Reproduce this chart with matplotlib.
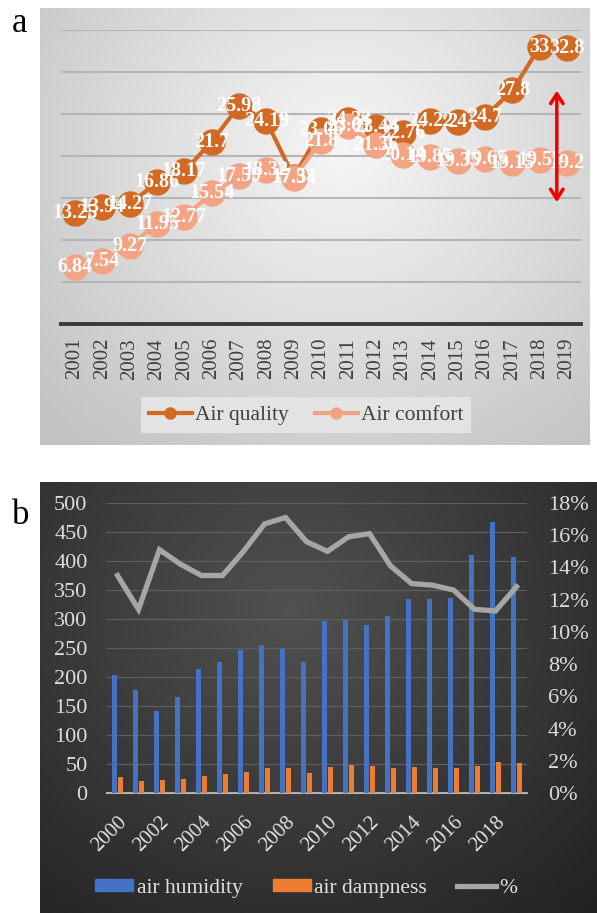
import matplotlib.pyplot as plt
import matplotlib.colors as mcolors
from matplotlib.lines import Line2D
from matplotlib.patches import Patch
from matplotlib.ticker import PercentFormatter
import numpy as np

# Panel a data
years_a = [str(y) for y in range(2001, 2020)]
air_quality = [13.25, 13.94, 14.27, 16.86, 18.17, 21.7, 25.98, 24.19, 17.51, 23.06,
               24.33, 23.44, 22.76, 24.22, 24, 24.7, 27.8, 33, 32.8]
air_comfort = [6.84, 7.54, 9.27, 11.95, 12.77, 15.54, 17.59, 18.32, 17.34, 21.8,
               23.61, 21.36, 20.14, 19.85, 19.35, 19.65, 19.15, 19.55, 19.2]

# Panel b data
years_b = list(range(2000, 2020))
air_humidity = [203, 177, 142, 166, 213, 226, 247, 255, 248, 226,
                297, 298, 290, 305, 335, 335, 337, 410, 467, 407]
air_dampness = [28, 20, 22, 23.5, 29, 32, 37, 43, 42.5, 35,
                45, 48, 47, 43, 44, 43, 43, 47, 53, 52]
pct = [13.5, 11.4, 15.1, 14.2, 13.5, 13.5, 15.0, 16.7, 17.1, 15.6,
       15.0, 15.9, 16.1, 14.1, 13.0, 12.9, 12.6, 11.4, 11.3, 12.8]

plt.rcParams['font.family'] = ['Liberation Serif', 'DejaVu Serif']

W, H = 597, 913
fig = plt.figure(figsize=(W / 100, H / 100), dpi=100)


def px_rect(x0, y0, x1, y1):
    """Pixel box (top-left origin) -> figure fraction rect"""
    return [x0 / W, 1 - y1 / H, (x1 - x0) / W, (y1 - y0) / H]


def gradient_bg(rect, inner, outer, cx, cy, rx, ry):
    ax = fig.add_axes(rect, zorder=0)
    yy, xx = np.mgrid[0:1:300j, 0:1:300j]
    r = np.clip(np.sqrt(((xx - cx) / rx) ** 2 + ((yy - cy) / ry) ** 2), 0, 1)[..., None]
    c_in = np.array(mcolors.to_rgb(inner))
    c_out = np.array(mcolors.to_rgb(outer))
    img = c_in * (1 - r) + c_out * r
    ax.imshow(img, extent=[0, 1, 0, 1], origin='lower', aspect='auto')
    ax.set_axis_off()
    return ax


# ---------------- Panel a ----------------
gradient_bg(px_rect(40, 8, 590, 445), '#f6f6f6', '#c2c2c2', 0.55, 0.68, 0.75, 0.9)

aq_color = '#D26A24'
ac_color = '#F2A485'

ax_a = fig.add_axes(px_rect(61.3, 30, 580.7, 324), zorder=1)
ax_a.set_facecolor('none')
x_a = np.arange(len(years_a))

ax_a.plot(x_a, air_quality, color=aq_color, lw=3, marker='o', ms=18,
          mec=aq_color, mfc=aq_color, zorder=3)
ax_a.plot(x_a, air_comfort, color=ac_color, lw=3, marker='o', ms=18,
          mec=ac_color, mfc=ac_color, zorder=4)

for series in (air_quality, air_comfort):
    for i, v in enumerate(series):
        ax_a.text(i, v, f'{v:g}', ha='center', va='center', color='white',
                  fontsize=14.5, fontweight='bold', zorder=6)

ax_a.set_xlim(-0.5, len(years_a) - 0.5)
ax_a.set_ylim(0, 35)
ax_a.set_yticks(np.arange(0, 36, 5))
ax_a.yaxis.grid(True, color='#b5b5b5', lw=1.5)
ax_a.set_axisbelow(True)
ax_a.set_xticks(x_a)
ax_a.set_xticklabels(years_a, rotation=90, fontsize=15, color='#404040')
ax_a.tick_params(axis='x', length=0, pad=10)
ax_a.tick_params(axis='y', length=0, labelleft=False)
for side in ('top', 'right', 'left'):
    ax_a.spines[side].set_visible(False)
ax_a.spines['bottom'].set_color('#3a3a3a')
ax_a.spines['bottom'].set_linewidth(2.8)

# Red double arrow
ax_a.annotate('', xy=(0.954, 0.405), xytext=(0.954, 0.803), xycoords='axes fraction',
              arrowprops=dict(arrowstyle='<->,head_length=0.7,head_width=0.45',
                              color='#EE0000', lw=2.5), zorder=7)

handles_a = [
    Line2D([], [], color=aq_color, lw=3, marker='o', ms=8, label='Air quality'),
    Line2D([], [], color=ac_color, lw=3, marker='o', ms=8, label='Air comfort'),
]
leg_a = fig.legend(handles=handles_a, loc='center', bbox_to_anchor=(306 / W, 1 - 415 / H),
                   ncol=2, fontsize=15.5, frameon=True, fancybox=False,
                   handlelength=2.0, handletextpad=0.15, columnspacing=1.2,
                   borderpad=0.35)
leg_a.get_frame().set_facecolor('#e6e6e6')
leg_a.get_frame().set_edgecolor('none')
leg_a.get_frame().set_alpha(0.9)
for t in leg_a.get_texts():
    t.set_color('#404040')

fig.text(12 / W, 1 - 32 / H, 'a', fontsize=25, va='baseline', ha='left')

# ---------------- Panel b ----------------
gradient_bg(px_rect(40, 482, 597, 913), '#515151', '#222222', 0.45, 0.7, 0.8, 0.95)

ax_b = fig.add_axes(px_rect(107, 503, 527, 793), zorder=1)
ax_b.set_facecolor('none')
x_b = np.arange(len(years_b))
bw = 0.24
ax_b.bar(x_b - 0.13, air_humidity, bw, color='#4472C4', label='air humidity', zorder=3)
ax_b.bar(x_b + 0.13, air_dampness, bw, color='#ED7D31', label='air dampness', zorder=3)

ax_b.set_xlim(-0.5, len(years_b) - 0.5)
ax_b.set_ylim(0, 500)
ax_b.set_yticks(np.arange(0, 501, 50))
ax_b.yaxis.grid(True, color='#5e5e5e', lw=0.9)
ax_b.set_axisbelow(True)
ax_b.set_xticks(x_b[::2])
ax_b.set_xticklabels([str(y) for y in years_b[::2]], rotation=45, ha='right', va='top',
                     rotation_mode='anchor', fontsize=15, color='#e0e0e0')
ax_b.tick_params(axis='x', length=0, pad=14)
ax_b.tick_params(axis='y', length=0, pad=14, labelsize=16, labelcolor='#dcdcdc')
for side in ('top', 'right', 'left'):
    ax_b.spines[side].set_visible(False)
ax_b.spines['bottom'].set_color('#b0b0b0')
ax_b.spines['bottom'].set_linewidth(1.5)

ax_b2 = ax_b.twinx()
ax_b2.plot(x_b, pct, color='#a6a6a6', lw=3.8, solid_joinstyle='miter', zorder=4, label='%')
ax_b2.set_ylim(0, 18)
ax_b2.set_yticks(np.arange(0, 19, 2))
ax_b2.yaxis.set_major_formatter(PercentFormatter(decimals=0))
ax_b2.tick_params(axis='y', length=0, pad=15, labelsize=16, labelcolor='#dcdcdc')
for side in ('top', 'right', 'left', 'bottom'):
    ax_b2.spines[side].set_visible(False)

handles_b = [
    Patch(color='#4472C4', label='air humidity'),
    Patch(color='#ED7D31', label='air dampness'),
    Line2D([], [], color='#a6a6a6', lw=3.8, label='%'),
]
leg_b = fig.legend(handles=handles_b, loc='center', bbox_to_anchor=(306 / W, 1 - 888 / H),
                   ncol=3, fontsize=15.5, frameon=False, handlelength=1.8,
                   handleheight=0.5, handletextpad=0.15, columnspacing=1.4)
for t in leg_b.get_texts():
    t.set_color('#e0e0e0')

fig.text(12 / W, 1 - 524 / H, 'b', fontsize=25, va='baseline', ha='left')

fig.savefig('out.png', dpi=100)
plt.close(fig)
